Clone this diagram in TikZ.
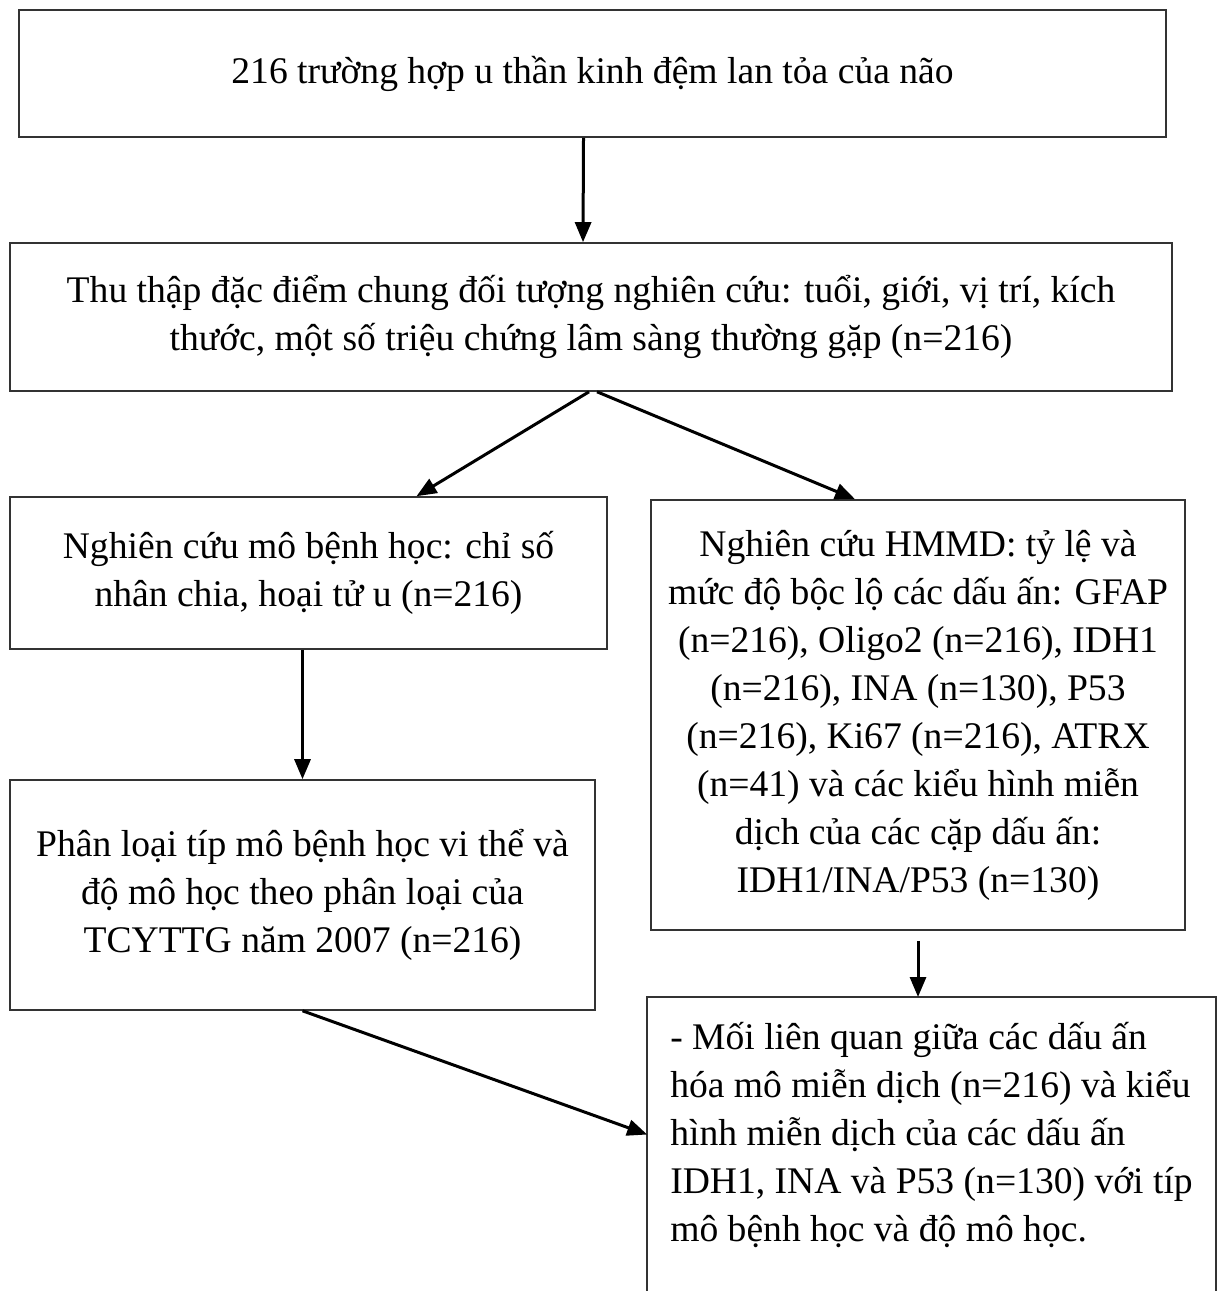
\documentclass[tikz,border=0pt]{standalone}
\usepackage{fontspec}
\setmainfont{Liberation Serif}
\usepackage{tikz}
\usetikzlibrary{arrows.meta}

\begin{document}
\begin{tikzpicture}[x=0.25pt,y=-0.25pt,
    every node/.style={font=\fontsize{9.4}{12}\selectfont},
    stage/.style={draw=black!80,thin,align=center,inner sep=0pt},
    link/.style={-{Triangle[length=5pt,width=4pt]},line width=0.75pt}]
                \useasboundingbox (0,0) rectangle (1225,1291);
                \coordinate (floor) at (0,1291);

                \node[stage,minimum width=286.75pt,minimum height=31.75pt] (top) at (592.5,73.5)
                    {216 trường hợp u thần kinh đệm lan tỏa của não};
                \node[stage,minimum width=290.5pt,minimum height=37pt] (collect) at (591,317)
                    {Thu thập đặc điểm chung đối tượng nghiên cứu: tuổi, giới, vị trí, kích\\
                     thước, một số triệu chứng lâm sàng thường gặp (n=216)};
                \node[stage,minimum width=149.25pt,minimum height=38pt] (histo) at (308.5,573)
                    {Nghiên cứu mô bệnh học: chỉ số\\nhân chia, hoại tử u (n=216)};
                \node[stage,minimum width=133.5pt,minimum height=107.5pt] (ihc) at (918,715)
                    {Nghiên cứu HMMD: tỷ lệ và\\mức độ bộc lộ các dấu ấn: GFAP\\
                     (n=216), Oligo2 (n=216), IDH1\\(n=216), INA (n=130), P53\\
                     (n=216), Ki67 (n=216), ATRX\\(n=41) và các kiểu hình miễn\\
                     dịch của các cặp dấu ấn:\\IDH1/INA/P53 (n=130)};
                \node[stage,minimum width=146.25pt,minimum height=57.5pt] (grade) at (302.5,895)
                    {Phân loại típ mô bệnh học vi thể và\\độ mô học theo phân loại của\\
                     TCYTTG năm 2007 (n=216)};
                % last box runs off the page, so only three sides
                \node[align=left,minimum width=141.75pt,inner xsep=0pt,inner ysep=6pt,anchor=north] (assoc) at (931.5,997)
                    {- Mối liên quan giữa các dấu ấn\\hóa mô miễn dịch (n=216) và kiểu\\
                     hình miễn dịch của các dấu ấn\\IDH1, INA và P53 (n=130) với típ\\
                     mô bệnh học và độ mô học.};
                \draw[draw=black!80,thin] (assoc.west |- floor) -- (assoc.north west) -- (assoc.north east) -- (assoc.east |- floor);

                \draw[link] ([xshift=-2.25pt]top.south) -- ([xshift=-2pt]collect.north);
                \draw[link] ([xshift=-0.5pt]collect.south) -- ([xshift=27pt]histo.north);
                \draw[link] ([xshift=1.5pt]collect.south) -- ([xshift=-15.75pt]ihc.north);
                \draw[link] (histo.south -| grade.north) -- (grade.north);
                \draw[link] ([yshift=-2.5pt]ihc.south) -- (ihc.south |- assoc.north);
                \draw[link] (grade.south) -- (assoc.west);
            \end{tikzpicture}
\end{document}
